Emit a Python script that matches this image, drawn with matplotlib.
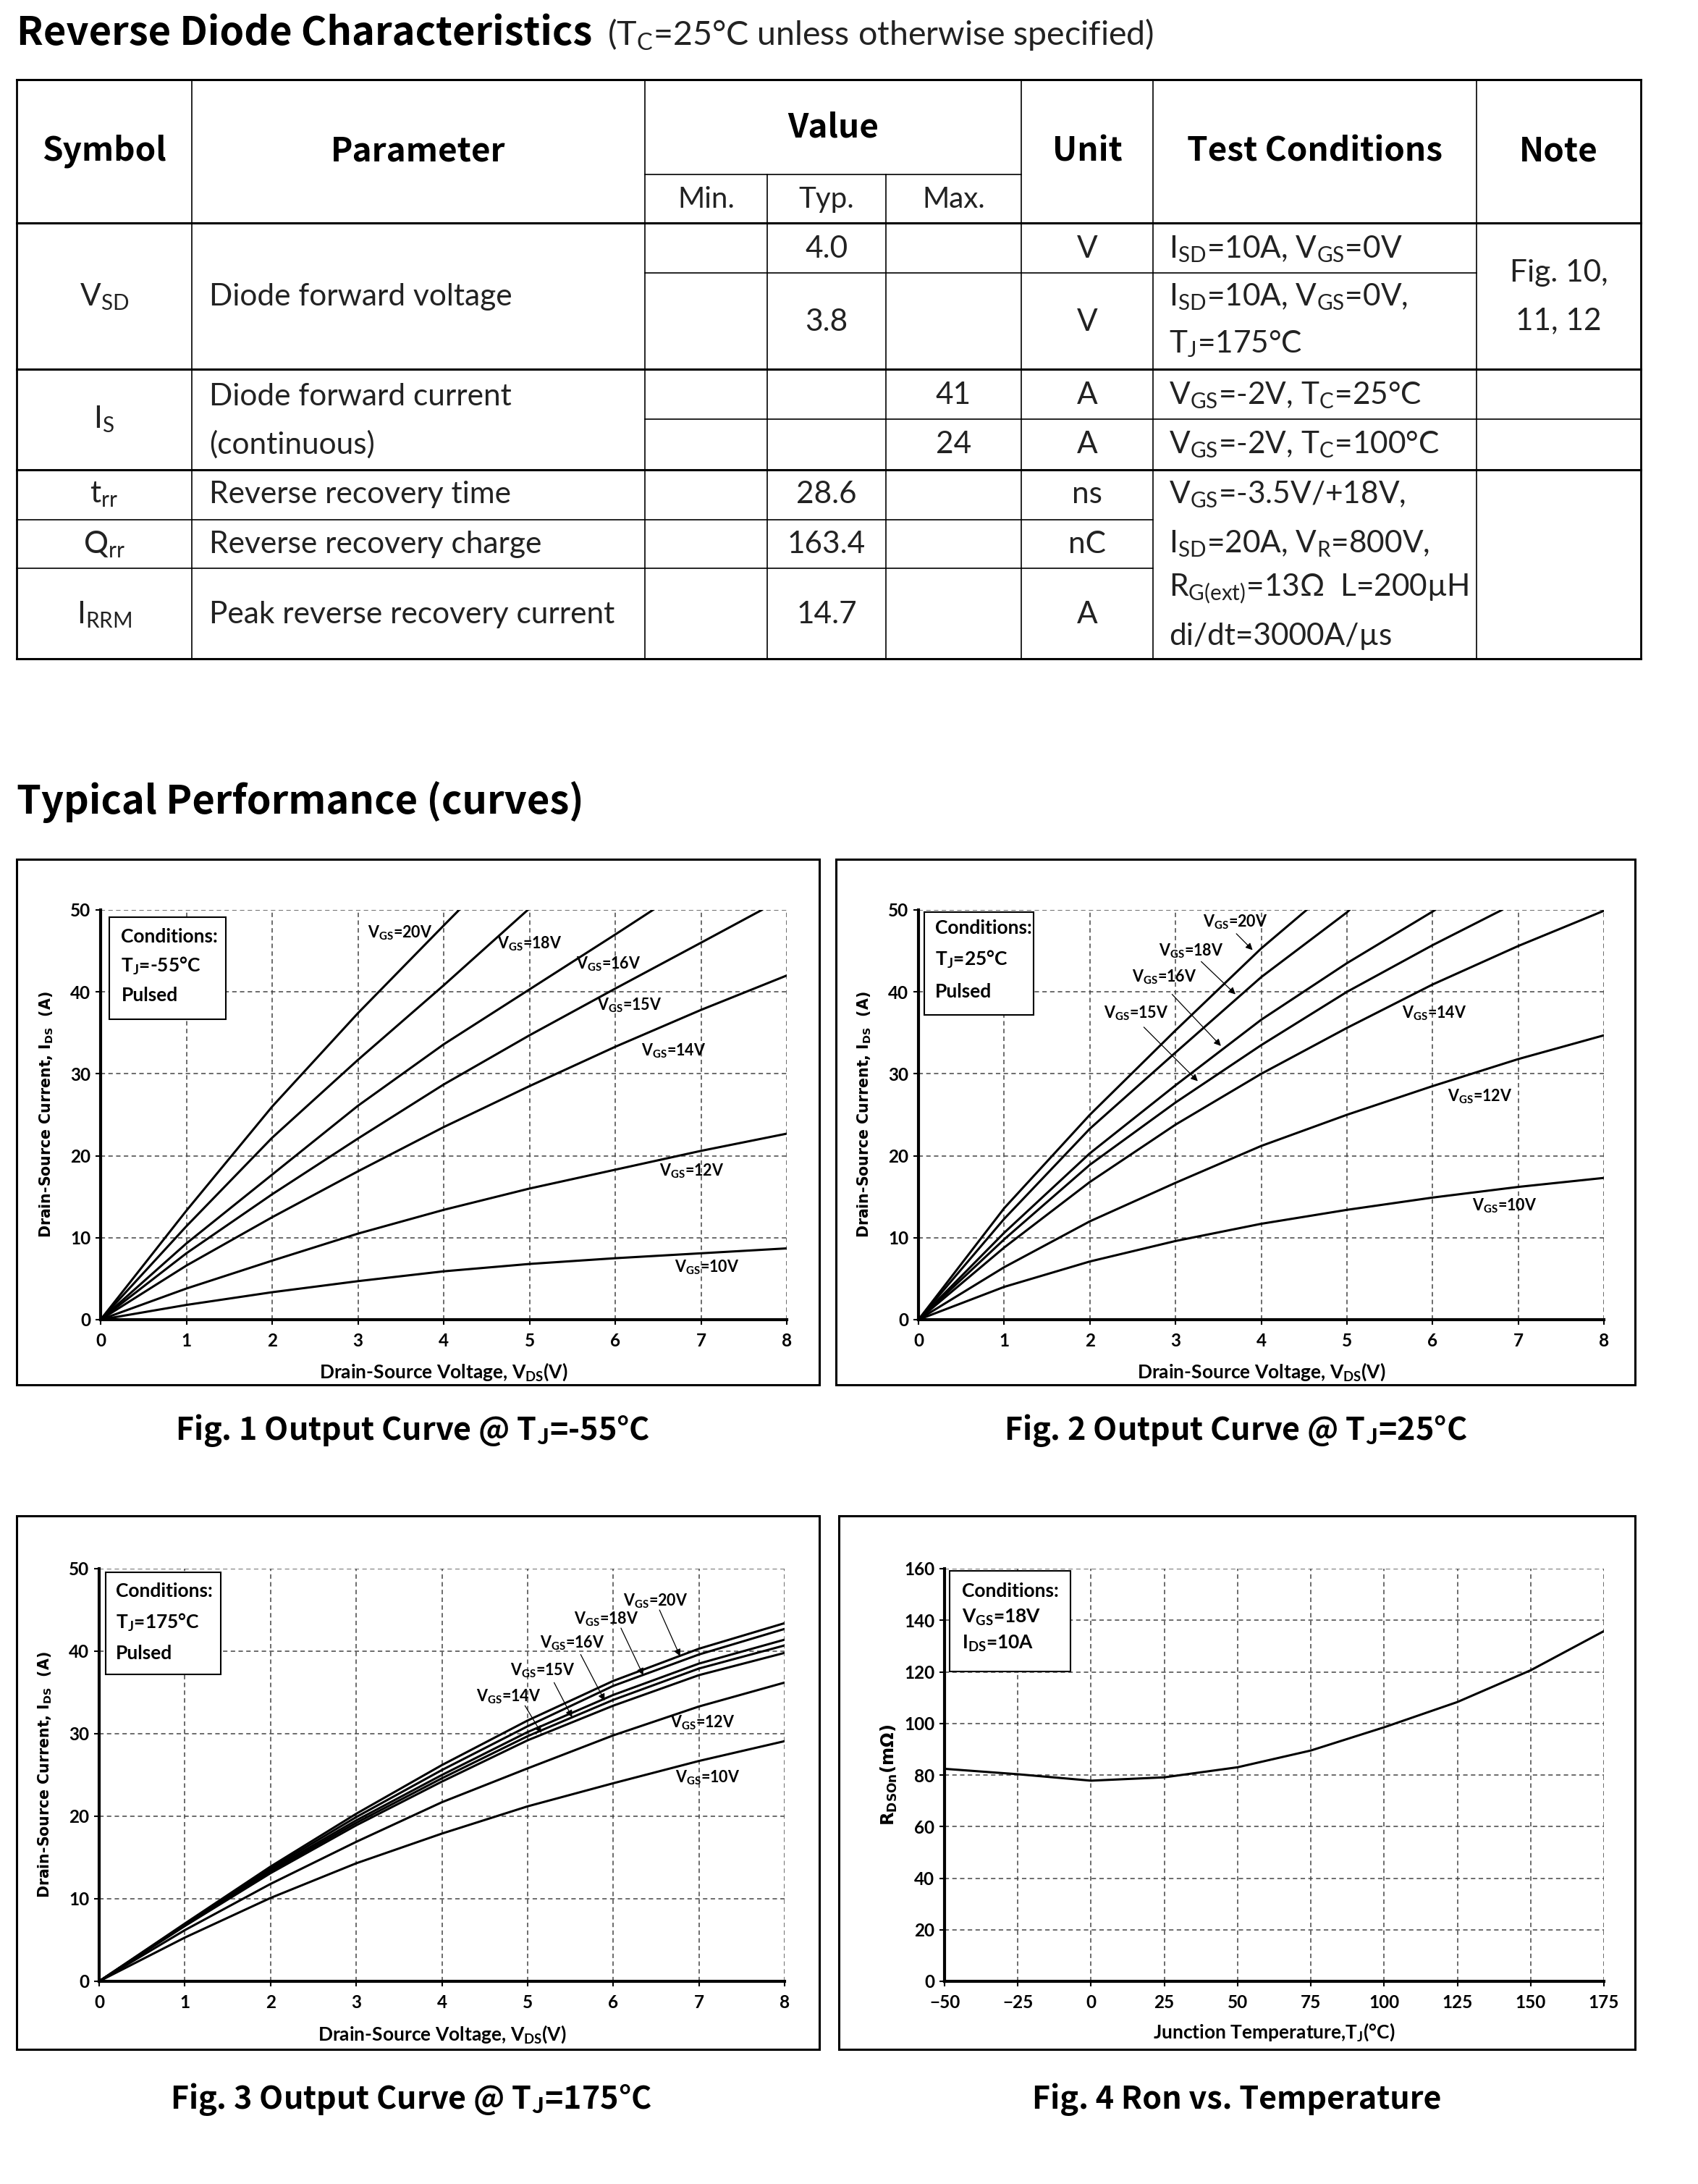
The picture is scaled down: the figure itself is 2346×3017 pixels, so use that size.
import matplotlib
matplotlib.use('Agg')
import matplotlib.pyplot as plt
from matplotlib.patches import Rectangle

# ---------------- table content ----------------
table_heading = 'Reverse Diode Characteristics'
table_heading_note = r'(T$_\mathregular{C}$=25°C unless otherwise specified)'
header_cols = ['Symbol', 'Parameter', 'Value', 'Unit', 'Test Conditions', 'Note']
value_cols = ['Min.', 'Typ.', 'Max.']
symbols = [r'V$_\mathregular{SD}$', r'I$_\mathregular{S}$', r't$_\mathregular{rr}$',
           r'Q$_\mathregular{rr}$', r'I$_\mathregular{RRM}$']
parameters = [['Diode forward voltage'], ['Diode forward current', '(continuous)'],
              ['Reverse recovery time'], ['Reverse recovery charge'],
              ['Peak reverse recovery current']]
typ_values = ['4.0', '3.8', '', '', '28.6', '163.4', '14.7']
max_values = ['', '', '41', '24', '', '', '']
units = ['V', 'V', 'A', 'A', 'ns', 'nC', 'A']
conditions = [r'I$_\mathregular{SD}$=10A, V$_\mathregular{GS}$=0V',
              r'I$_\mathregular{SD}$=10A, V$_\mathregular{GS}$=0V,',
              r'T$_\mathregular{J}$=175°C',
              r'V$_\mathregular{GS}$=-2V, T$_\mathregular{C}$=25°C',
              r'V$_\mathregular{GS}$=-2V, T$_\mathregular{C}$=100°C',
              r'V$_\mathregular{GS}$=-3.5V/+18V,',
              r'I$_\mathregular{SD}$=20A, V$_\mathregular{R}$=800V,',
              r'R$_\mathregular{G(ext)}$=13Ω  L=200µH',
              'di/dt=3000A/µs']
notes = ['Fig. 10,', '11, 12']

# ---------------- curve data ----------------
vgs_names = ['20', '18', '16', '15', '14', '12', '10']
vds = [0, 1, 2, 3, 4, 5, 6, 7, 8]

# Fig 1, Tj = -55C  (curves that leave the top end where they reach 50 A)
fig1 = {
    '20': ([0, 1, 2, 3, 4, 4.18], [0, 13.3, 26.0, 37.4, 48.1, 50]),
    '18': ([0, 1, 2, 3, 4, 4.98], [0, 11.4, 22.2, 31.7, 40.8, 50]),
    '16': ([0, 1, 2, 3, 4, 5, 6, 6.44], [0, 9.3, 17.7, 26.1, 33.6, 40.3, 47.0, 50]),
    '15': ([0, 1, 2, 3, 4, 5, 6, 7, 7.71], [0, 8.1, 15.3, 22.1, 28.7, 34.7, 40.4, 46.0, 50]),
    '14': (vds, [0, 6.6, 12.5, 18.1, 23.5, 28.5, 33.3, 37.8, 42.0]),
    '12': (vds, [0, 3.8, 7.2, 10.5, 13.4, 16.0, 18.3, 20.6, 22.7]),
    '10': (vds, [0, 1.8, 3.35, 4.7, 5.9, 6.8, 7.5, 8.1, 8.7]),
}
# Fig 2, Tj = 25C
fig2 = {
    '20': ([0, 1, 2, 3, 4, 4.53], [0, 13.6, 25.0, 35.3, 45.3, 50]),
    '18': ([0, 1, 2, 3, 4, 5, 5.03], [0, 12.3, 23.3, 32.6, 41.8, 49.7, 50]),
    '16': ([0, 1, 2, 3, 4, 5, 6, 6.03], [0, 10.6, 20.3, 28.6, 36.6, 43.5, 49.8, 50]),
    '15': ([0, 1, 2, 3, 4, 5, 6, 6.81], [0, 9.8, 18.9, 26.5, 33.5, 40.0, 45.7, 50]),
    '14': (vds, [0, 8.8, 16.8, 23.8, 30.0, 35.6, 40.9, 45.6, 49.9]),
    '12': (vds, [0, 6.4, 12.0, 16.7, 21.2, 25.0, 28.5, 31.8, 34.7]),
    '10': (vds, [0, 4.0, 7.1, 9.6, 11.7, 13.4, 14.9, 16.2, 17.3]),
}
# Fig 3, Tj = 175C
fig3 = {
    '20': (vds, [0, 7.0, 13.9, 20.3, 26.2, 31.6, 36.4, 40.3, 43.4]),
    '18': (vds, [0, 6.9, 13.7, 19.9, 25.6, 30.9, 35.8, 39.6, 42.7]),
    '16': (vds, [0, 6.8, 13.5, 19.5, 25.0, 30.2, 34.7, 38.5, 41.4]),
    '15': (vds, [0, 6.75, 13.3, 19.2, 24.6, 29.7, 34.1, 37.9, 40.7]),
    '14': (vds, [0, 6.7, 13.1, 18.9, 24.2, 29.2, 33.4, 37.1, 39.8]),
    '12': (vds, [0, 6.2, 11.8, 16.9, 21.7, 25.8, 29.8, 33.3, 36.2]),
    '10': (vds, [0, 5.3, 10.1, 14.3, 17.9, 21.2, 24.0, 26.7, 29.1]),
}
# Fig 4, Ron vs temperature
temp_c = [-50, -25, 0, 25, 50, 75, 100, 125, 150, 175]
rdson_mohm = [82.4, 80.3, 77.8, 79.1, 83.0, 89.5, 98.5, 108.3, 120.6, 135.8]

captions = [r'Fig. 1 Output Curve @ T$_\mathregular{J}$=-55°C',
            r'Fig. 2 Output Curve @ T$_\mathregular{J}$=25°C',
            r'Fig. 3 Output Curve @ T$_\mathregular{J}$=175°C',
            'Fig. 4 Ron vs. Temperature']
cond1 = ['Conditions:', r'T$_\mathregular{J}$=-55°C', 'Pulsed']
cond2 = ['Conditions:', r'T$_\mathregular{J}$=25°C', 'Pulsed']
cond3 = ['Conditions:', r'T$_\mathregular{J}$=175°C', 'Pulsed']
cond4 = ['Conditions:', r'V$_\mathregular{GS}$=18V', r'I$_\mathregular{DS}$=10A']

# ---------------- page setup ----------------
W, H = 2346, 3017
plt.rcParams['font.family'] = ['Lato', 'DejaVu Sans']
plt.rcParams['font.weight'] = 'bold'
plt.rcParams['axes.labelweight'] = 'bold'
HEAD = ['Noto Sans CJK SC', 'DejaVu Sans']
BODY = ['Lato', 'DejaVu Sans']

fig = plt.figure(figsize=(W / 100, H / 100), dpi=100)
pg = fig.add_axes([0, 0, 1, 1])
pg.set_xlim(0, W)
pg.set_ylim(H, 0)
pg.axis('off')

# headings
pg.text(23, 62, table_heading, family=HEAD, weight='bold', fontsize=39, va='baseline')
pg.text(839, 62, table_heading_note, family=BODY, weight='normal', fontsize=33.5,
        va='baseline', color='#222222')
pg.text(23, 1124, 'Typical Performance (curves)', family=HEAD, weight='bold', fontsize=39,
        va='baseline')

# table grid
col_x = [23, 265, 891, 1060, 1224, 1411, 1593, 2040, 2267]
hlines = [(110, 0, 8, 2.2), (241, 2, 5, 1.2), (308, 0, 8, 2.2), (377, 2, 7, 1.2),
          (510, 0, 8, 2.2), (579, 2, 8, 1.2), (649, 0, 8, 2.2), (718, 0, 6, 1.2),
          (785, 0, 6, 1.2), (910, 0, 8, 2.2)]
for y, a, b, lw in hlines:
    pg.plot([col_x[a], col_x[b]], [y, y], color='black', lw=lw, solid_capstyle='projecting')
for k, x in enumerate(col_x):
    top = 241 if k in (3, 4) else 110
    lw = 2.0 if k in (0, 8) else 1.2
    pg.plot([x, x], [top, 910], color='black', lw=lw)

hcx = [(col_x[0] + col_x[1]) / 2, (col_x[1] + col_x[2]) / 2, (col_x[2] + col_x[5]) / 2,
       (col_x[5] + col_x[6]) / 2, (col_x[6] + col_x[7]) / 2, (col_x[7] + col_x[8]) / 2]
for k, name in enumerate(header_cols):
    pg.text(hcx[k], 176 if name == 'Value' else 209, name, family=HEAD, weight='bold',
            fontsize=33, ha='center', va='center')
for k, name in enumerate(value_cols):
    pg.text((col_x[2 + k] + col_x[3 + k]) / 2, 275, name, family=BODY, weight='normal',
            fontsize=29, ha='center', va='center', color='#222222')

body = dict(family=BODY, weight='normal', fontsize=30.5, va='center', color='#222222')
sym_y = [410, 579, 683, 752, 849]
par_y = [[410], [548, 614], [683], [752], [849]]
for s, y in zip(symbols, sym_y):
    pg.text(hcx[0], y, s, ha='center', **body)
for lines, ys in zip(parameters, par_y):
    for t, y in zip(lines, ys):
        pg.text(289, y, t, ha='left', **body)
val_y = [344, 445, 546, 614, 683, 752, 849]
for t, m, u, y in zip(typ_values, max_values, units, val_y):
    pg.text((col_x[3] + col_x[4]) / 2, y, t, ha='center', **body)
    pg.text((col_x[4] + col_x[5]) / 2, y, m, ha='center', **body)
    pg.text(hcx[3], y, u, ha='center', **body)
cond_y = [344, 410, 475, 546, 614, 683, 751, 814, 879]
for t, y in zip(conditions, cond_y):
    pg.text(1615, y, t, ha='left', **body)
for t, y in zip(notes, [377, 443]):
    pg.text(hcx[5], y, t, ha='center', **body)

# chart frames and captions
frames = [(23, 1187, 1132, 1913), (1155, 1187, 2259, 1913),
          (23, 2094, 1132, 2831), (1159, 2094, 2259, 2831)]
for x0, y0, x1, y1 in frames:
    pg.add_patch(Rectangle((x0, y0), x1 - x0, y1 - y0, fill=False, ec='black', lw=2.2))
for t, (x, y) in zip(captions, [(570, 1976), (1707, 1976), (568, 2900), (1709, 2900)]):
    pg.text(x, y, t, family=HEAD, weight='bold', fontsize=31, ha='center', va='center')


def px_axes(l, t, r, b):
    return fig.add_axes([l / W, 1 - b / H, (r - l) / W, (b - t) / H])


def style(ax, xlim, ylim, xticks, yticks):
    ax.set_xlim(*xlim)
    ax.set_ylim(*ylim)
    ax.set_xticks(xticks)
    ax.set_yticks(yticks)
    ax.patch.set_alpha(0)
    for s in ('top', 'right'):
        ax.spines[s].set_visible(False)
    for s in ('left', 'bottom'):
        ax.spines[s].set_linewidth(3)
    ax.grid(True, color='#444444', lw=1.1, linestyle=(0, (4, 3)))
    ax.set_axisbelow(True)
    ax.tick_params(direction='out', length=5, width=1.5, labelsize=17.5)
    ax.tick_params(axis='x', pad=8)
    ax.tick_params(axis='y', pad=5)


def cond_box(ax, box, lines, ys, x):
    x0, y0, x1, y1 = box
    ax.add_patch(Rectangle((x0, y0), x1 - x0, y1 - y0, transform=ax.transAxes,
                           fc='white', ec='black', lw=1.5, zorder=3))
    for t, y in zip(lines, ys):
        ax.text(x, y, t, transform=ax.transAxes, fontsize=19, ha='left', va='center', zorder=5)


def output_chart(ax, curves, label_pos, arrows, cond, box, cond_ys, cond_x):
    style(ax, (0, 8), (0, 50), range(0, 9), range(0, 51, 10))
    for name, (lx, ly) in zip(vgs_names, label_pos):
        v, i = curves[name]
        ax.plot(v, i, color='black', lw=2.2, zorder=4)
        ax.text(lx, ly, r'V$_\mathregular{GS}$=' + name + 'V', fontsize=15.5,
                ha='center', va='center', zorder=5)
    for start, tip in arrows:
        ax.annotate('', xy=tip, xytext=start,
                    arrowprops=dict(arrowstyle='-|>', color='black', lw=0.9,
                                    mutation_scale=14, shrinkA=0, shrinkB=0), zorder=5)
    cond_box(ax, box, cond, cond_ys, cond_x)
    ax.set_xlabel(r'Drain-Source Voltage, V$_\mathregular{DS}$(V)', fontsize=19)
    ax.xaxis.set_label_coords(0.5, -0.128)
    ax.xaxis.label.set_va('center')
    ax.set_ylabel(r'Drain-Source Current, I$_\mathregular{DS}$  (A)', family=['DejaVu Sans'],
                  fontsize=14.8, fontweight='bold')
    ax.yaxis.set_label_coords(-0.0786, 0.5)
    ax.yaxis.label.set_va('center')


ax1 = px_axes(139, 1257, 1087, 1823)
output_chart(ax1, fig1,
             [(3.49, 47.2), (5.0, 45.9), (5.92, 43.4), (6.17, 38.4), (6.68, 32.8),
              (6.89, 18.1), (7.07, 6.4)],
             [], cond1, (0.0125, 0.734, 0.1825, 0.982), [0.935, 0.864, 0.792], 0.030)

ax2 = px_axes(1269, 1257, 2216, 1823)
output_chart(ax2, fig2,
             [(3.70, 48.5), (3.18, 45.0), (2.87, 41.8), (2.54, 37.4), (6.02, 37.4),
              (6.55, 27.2), (6.84, 13.9)],
             [((3.71, 47.1), (3.90, 45.1)), ((3.30, 43.7), (3.70, 39.7)),
              ((2.96, 39.7), (3.53, 33.4)), ((2.63, 35.7), (3.26, 29.1))],
             cond2, (0.008, 0.744, 0.168, 0.994), [0.955, 0.880, 0.800], 0.024)

ax3 = px_axes(137, 2167, 1084, 2737)
output_chart(ax3, fig3,
             [(6.49, 46.1), (5.92, 43.9), (5.52, 41.0), (5.18, 37.7), (4.78, 34.5),
              (7.04, 31.3), (7.10, 24.7)],
             [((6.54, 45.0), (6.78, 39.4)), ((6.09, 42.8), (6.35, 37.1)),
              ((5.62, 39.6), (5.90, 34.0)), ((5.31, 36.2), (5.52, 32.0)),
              ((4.97, 33.4), (5.16, 30.1))],
             cond3, (0.010, 0.744, 0.1775, 0.992), [0.946, 0.870, 0.795], 0.024)

ax4 = px_axes(1305, 2167, 2216, 2737)
style(ax4, (-50, 175), (0, 160), range(-50, 176, 25), range(0, 161, 20))
ax4.plot(temp_c, rdson_mohm, color='black', lw=2.2, zorder=4)
cond_box(ax4, (0.008, 0.751, 0.191, 0.994), cond4, [0.946, 0.882, 0.819], 0.026)
ax4.set_xlabel(r'Junction Temperature,T$_\mathregular{J}$(°C)', fontsize=19)
ax4.xaxis.set_label_coords(0.5, -0.122)
ax4.xaxis.label.set_va('center')
ax4.set_ylabel(r'R$_\mathregular{DSOn}$(mΩ)', family=['DejaVu Sans'], fontsize=17.5,
               fontweight='bold')
ax4.yaxis.set_label_coords(-0.0845, 0.5)
ax4.yaxis.label.set_va('center')

fig.savefig('out.png', dpi=100)
